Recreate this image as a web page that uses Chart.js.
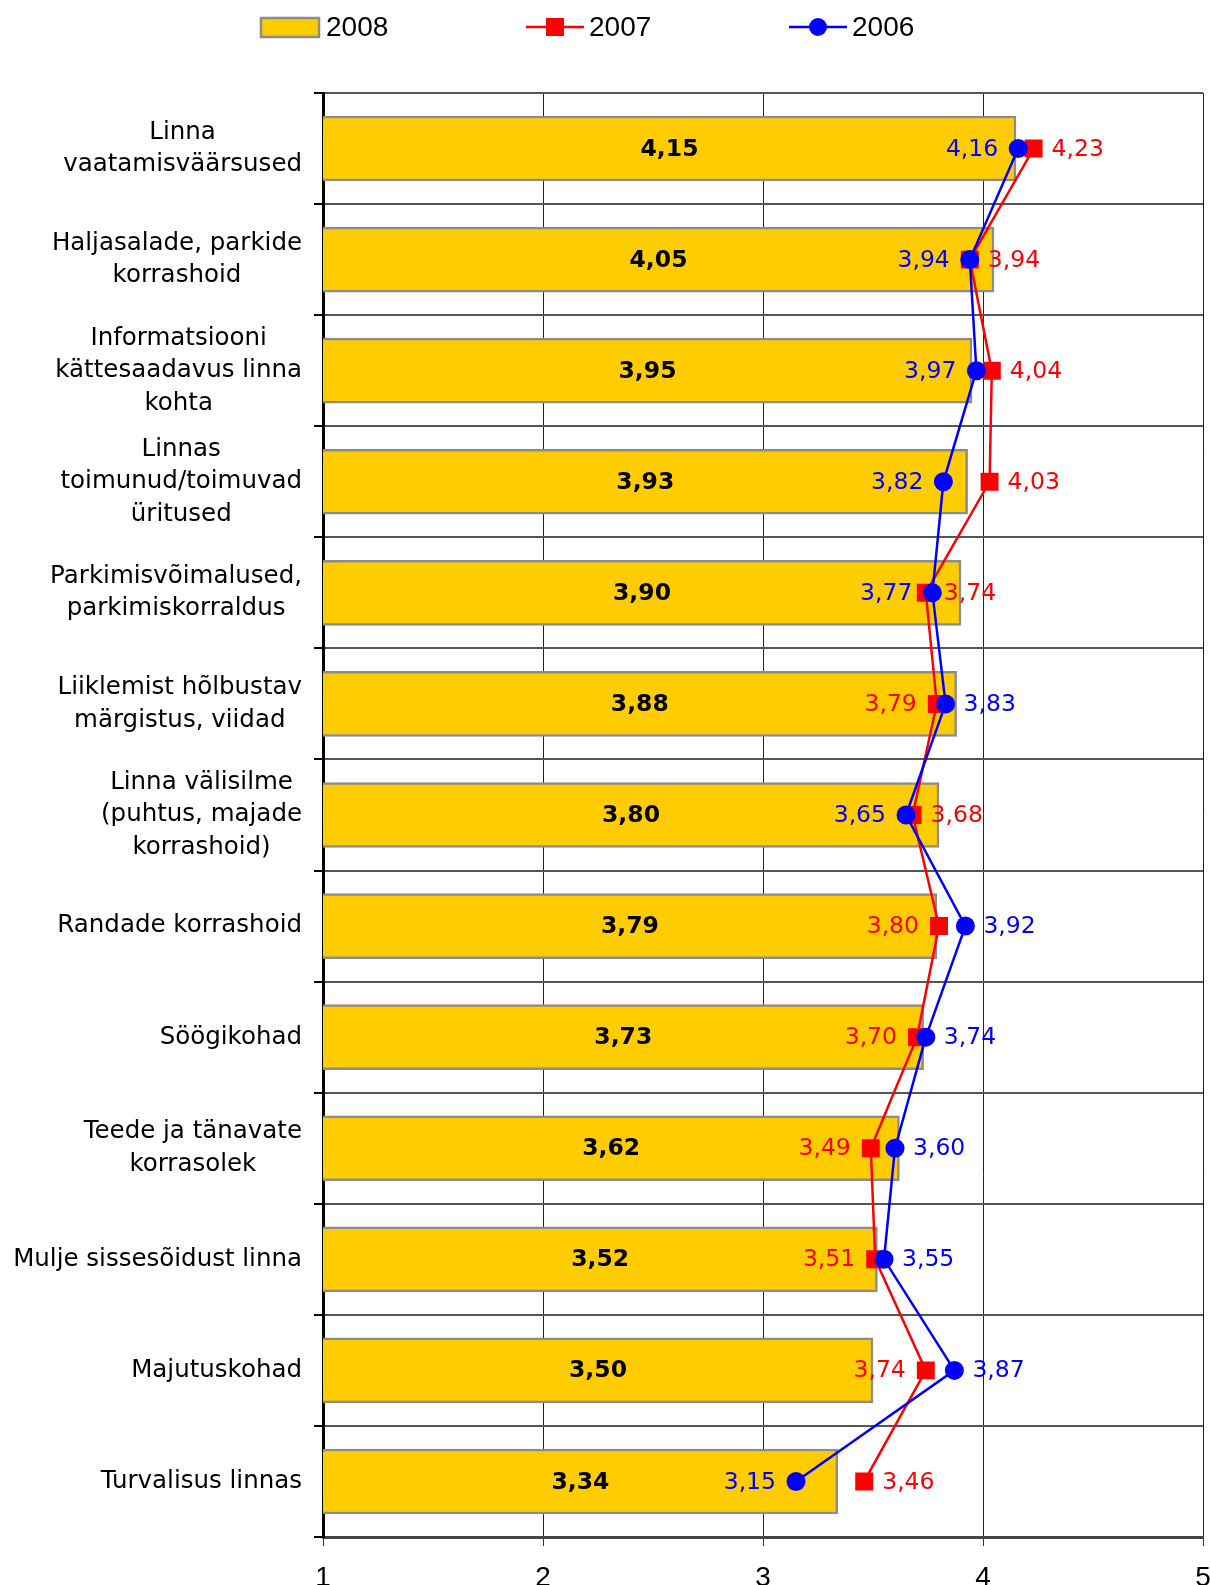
<!DOCTYPE html>
<html>
<head>
<meta charset="utf-8">
<script src="https://cdn.jsdelivr.net/npm/chart.js@4.4.1/dist/chart.umd.min.js"></script>
<style>
  html, body { margin: 0; padding: 0; background: #fff; overflow: hidden; }
  #wrap { width: 1210px; height: 1585px; overflow: hidden; }
  canvas { display: block; }
</style>
</head>
<body>
<div id="wrap"><canvas id="ratingChart" width="1220" height="1585"></canvas></div>
<script>
const categories = [
  ['Linna', 'vaatamisväärsused'],
  ['Haljasalade, parkide', 'korrashoid'],
  ['Informatsiooni', 'kättesaadavus linna', 'kohta'],
  ['Linnas', 'toimunud/toimuvad', 'üritused'],
  ['Parkimisvõimalused,', 'parkimiskorraldus'],
  ['Liiklemist hõlbustav', 'märgistus, viidad'],
  ['Linna välisilme', '(puhtus, majade', 'korrashoid)'],
  ['Randade korrashoid'],
  ['Söögikohad'],
  ['Teede ja tänavate', 'korrasolek'],
  ['Mulje sissesõidust linna'],
  ['Majutuskohad'],
  ['Turvalisus linnas']
];
const values2008 = [4.15, 4.05, 3.95, 3.93, 3.90, 3.88, 3.80, 3.79, 3.73, 3.62, 3.52, 3.50, 3.34];
const values2007 = [4.23, 3.94, 4.04, 4.03, 3.74, 3.79, 3.68, 3.80, 3.70, 3.49, 3.51, 3.74, 3.46];
const values2006 = [4.16, 3.94, 3.97, 3.82, 3.77, 3.83, 3.65, 3.92, 3.74, 3.60, 3.55, 3.87, 3.15];
const xTicks = [1, 2, 3, 4, 5];

// which side of the marker each value label sits on
const side2007 = ['r', 'r', 'r', 'r', 'r', 'l', 'r', 'l', 'l', 'l', 'l', 'l', 'r'];
const side2006 = ['l', 'l', 'l', 'l', 'l', 'r', 'l', 'r', 'r', 'r', 'r', 'r', 'l'];

const fmt = v => v.toFixed(2).replace('.', ',');

const categoryLabels = {
  id: 'categoryLabels',
  afterDraw(chart) {
    const ctx = chart.ctx;
    const yScale = chart.scales.y;
    const right = chart.chartArea.left - 21;
    ctx.save();
    ctx.font = '24.5px "DejaVu Sans"';
    ctx.fillStyle = '#000';
    ctx.textAlign = 'center';
    ctx.textBaseline = 'middle';
    categories.forEach((lines, i) => {
      const w = Math.max(...lines.map(l => ctx.measureText(l).width));
      const cx = right - w / 2;
      const cy = yScale.getPixelForValue(i);
      lines.forEach((line, k) => {
        ctx.fillText(line, cx, cy + (k - (lines.length - 1) / 2) * 32.5);
      });
    });
    ctx.restore();
  }
};

const valueLabels = {
  id: 'valueLabels',
  afterDatasetsDraw(chart) {
    const ctx = chart.ctx;
    const left = chart.chartArea.left;
    ctx.save();
    ctx.textBaseline = 'middle';

    ctx.font = 'bold 23.5px "DejaVu Sans"';
    ctx.fillStyle = '#000';
    ctx.textAlign = 'center';
    chart.getDatasetMeta(0).data.forEach((bar, i) => {
      ctx.fillText(fmt(values2008[i]), (Math.max(bar.base, left) + bar.x) / 2, bar.y + 1);
    });

    ctx.font = '23.5px "DejaVu Sans"';
    [[1, side2007], [2, side2006]].forEach(([idx, sides]) => {
      const ds = chart.data.datasets[idx];
      ctx.fillStyle = ds.borderColor;
      chart.getDatasetMeta(idx).data.forEach((pt, i) => {
        const onRight = sides[i] === 'r';
        ctx.textAlign = onRight ? 'left' : 'right';
        ctx.fillText(fmt(ds.data[i]), pt.x + (onRight ? 18 : -20), pt.y + 1);
      });
    });
    ctx.restore();
  }
};

const legendRow = {
  id: 'legendRow',
  afterDraw(chart) {
    const ctx = chart.ctx;
    const cy = 27, w = 58, stride = 263;
    ctx.save();
    ctx.font = '28px "Liberation Sans"';
    ctx.textBaseline = 'middle';
    ctx.textAlign = 'left';
    chart.data.datasets.forEach((ds, i) => {
      const x0 = 261 + i * stride;
      if (ds.type === 'bar') {
        ctx.fillStyle = ds.backgroundColor;
        ctx.fillRect(x0, cy - 9, w, 19);
        ctx.strokeStyle = ds.borderColor;
        ctx.lineWidth = 2.5;
        ctx.strokeRect(x0, cy - 9, w, 19);
      } else {
        ctx.strokeStyle = ds.borderColor;
        ctx.lineWidth = 2.5;
        ctx.beginPath();
        ctx.moveTo(x0 + 2, cy);
        ctx.lineTo(x0 + w + 2, cy);
        ctx.stroke();
        ctx.fillStyle = ds.pointBackgroundColor;
        const mx = x0 + w / 2 + 2;
        if (ds.pointStyle === 'rect') {
          ctx.fillRect(mx - 9, cy - 9, 18, 18);
        } else {
          ctx.beginPath();
          ctx.arc(mx, cy, 9, 0, Math.PI * 2);
          ctx.fill();
        }
      }
      ctx.fillStyle = '#000';
      ctx.fillText(ds.label, x0 + w + 7, cy + 1);
    });
    ctx.restore();
  }
};

const ctx = document.getElementById('ratingChart').getContext('2d');
const ratingChart = new Chart(ctx, {
  data: {
    labels: categories,
    datasets: [{
      type: 'bar',
      label: '2008',
      data: values2008,
      backgroundColor: '#FFCC00',
      borderColor: '#8C8C8C',
      borderWidth: 2.5,
      borderSkipped: false,
      barThickness: 65,
      indexAxis: 'y',
      order: 3
    }, {
      type: 'line',
      label: '2007',
      data: values2007,
      borderColor: '#FF0000',
      backgroundColor: '#FF0000',
      pointBackgroundColor: '#FF0000',
      pointBorderWidth: 0,
      pointStyle: 'rect',
      pointRadius: 12.7,
      borderWidth: 2.5,
      fill: false,
      tension: 0,
      indexAxis: 'y',
      order: 2
    }, {
      type: 'line',
      label: '2006',
      data: values2006,
      borderColor: '#0000FF',
      backgroundColor: '#0000FF',
      pointBackgroundColor: '#0000FF',
      pointBorderWidth: 0,
      pointStyle: 'circle',
      pointRadius: 9.5,
      borderWidth: 2.5,
      fill: false,
      tension: 0,
      indexAxis: 'y',
      order: 1
    }]
  },
  options: {
    indexAxis: 'y',
    responsive: false,
    animation: false,
    layout: {
      // canvas is 10px wider than the page so the "5" tick label gets cut like the original
      padding: { top: 93, right: 17, bottom: 0, left: 0 }
    },
    plugins: {
      legend: { display: false },
      tooltip: { enabled: false }
    },
    scales: {
      x: {
        type: 'linear',
        position: 'bottom',
        min: 1,
        max: 5,
        afterBuildTicks: s => { s.ticks = xTicks.map(v => ({ value: v })); },
        afterFit: s => { s.paddingLeft = 0; s.paddingRight = 0; s.height = 48; },
        grid: { color: '#222', lineWidth: 1, tickLength: 9, tickColor: '#333' },
        border: { color: '#444', width: 3 },
        ticks: {
          color: '#000',
          padding: 15,
          font: { family: 'Liberation Sans', size: 28 }
        }
      },
      y: {
        type: 'category',
        afterFit: s => { s.width = 323; },
        grid: { color: '#555', lineWidth: 2, tickLength: 9, offset: true, tickColor: '#000' },
        border: { color: '#000', width: 3 },
        ticks: { display: false }
      }
    }
  },
  plugins: [categoryLabels, valueLabels, legendRow]
});
</script>
</body>
</html>
